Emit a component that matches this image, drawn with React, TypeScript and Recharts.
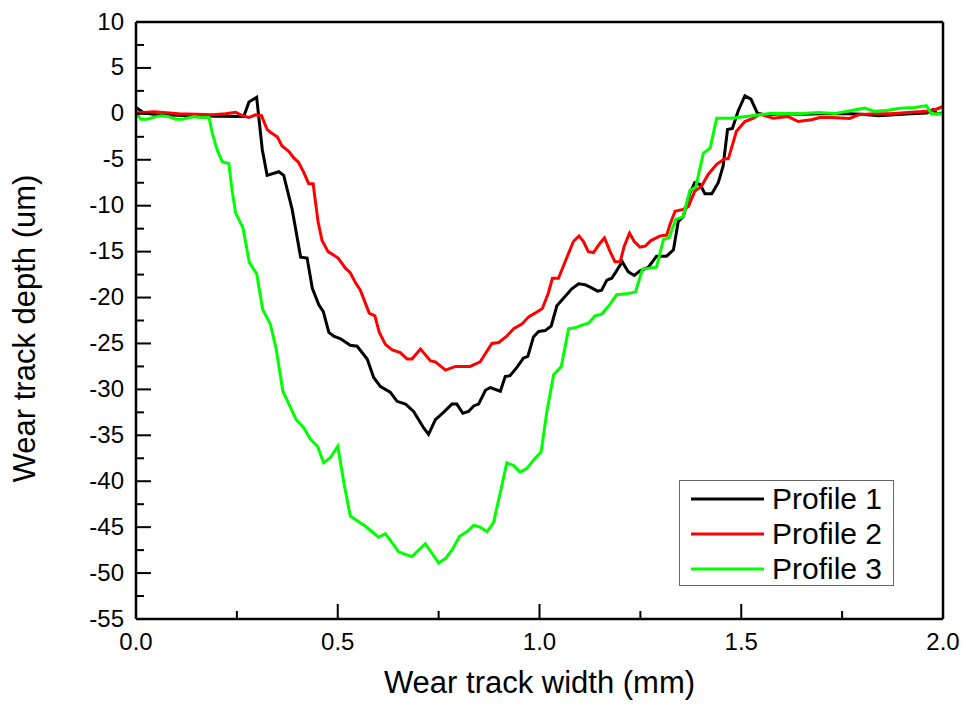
import { LineChart, Line, XAxis, YAxis, Legend } from "recharts"

const FONT = "'Liberation Sans', Arial, Helvetica, sans-serif"

// surface profiles across the wear track: width in mm, depth in um
const p1X = [
  0, 0.02, 0.05, 0.1, 0.15, 0.2, 0.267, 0.28, 0.299, 0.313, 0.325, 0.354, 0.366, 0.387, 0.408, 0.424,
  0.437, 0.453, 0.464, 0.478, 0.49, 0.507, 0.531, 0.548, 0.573, 0.589, 0.606, 0.63, 0.647, 0.668, 0.688,
  0.713, 0.725, 0.742, 0.762, 0.783, 0.795, 0.81, 0.824, 0.837, 0.849, 0.866, 0.878, 0.903, 0.915, 0.927,
  0.944, 0.96, 0.971, 0.985, 0.998, 1.014, 1.029, 1.043, 1.059, 1.08, 1.097, 1.113, 1.129, 1.144, 1.154,
  1.167, 1.179, 1.191, 1.205, 1.22, 1.235, 1.249, 1.27, 1.29, 1.315, 1.332, 1.344, 1.356, 1.373, 1.385,
  1.398, 1.41, 1.427, 1.443, 1.455, 1.466, 1.478, 1.493, 1.509, 1.524, 1.54, 1.558, 1.6, 1.65, 1.7, 1.75,
  1.8, 1.84, 1.88, 1.92, 1.96, 1.975, 1.985, 2.0,
]
const p1Y = [
  0.7, 0.1, -0.1, -0.15, -0.2, -0.25, -0.3, 1.3, 1.8, -3.9, -6.7, -6.3, -6.7, -10.4, -15.6, -15.7,
  -19.0, -20.8, -21.5, -23.8, -24.2, -24.5, -25.2, -25.3, -26.7, -28.7, -29.7, -30.3, -31.3, -31.6, -32.4,
  -34.2, -34.9, -33.3, -32.5, -31.6, -31.6, -32.6, -32.4, -31.8, -31.6, -30.1, -29.8, -30.2, -28.6, -28.5,
  -27.6, -26.6, -26.4, -24.3, -23.7, -23.6, -23.1, -20.9, -20.1, -19.05, -18.5, -18.6, -18.95, -19.3, -19.2,
  -18.1, -17.9, -17.1, -16.1, -17.2, -17.6, -17.1, -16.7, -15.5, -15.5, -14.8, -11.7, -11.2, -8.6, -7.5,
  -7.7, -8.7, -8.7, -7.5, -5.7, -1.7, -1.6, 0.4, 1.96, 1.6, 0.07, -0.1, 0.0, -0.05, 0.0, 0.05,
  -0.05, -0.2, -0.1, 0.0, 0.1, 0.45, 0.0, 0.1,
]

const p2X = [
  0, 0.045, 0.106, 0.19, 0.222, 0.247, 0.263, 0.28, 0.296, 0.311, 0.325, 0.333, 0.35, 0.362, 0.379, 0.391,
  0.403, 0.416, 0.428, 0.439, 0.451, 0.461, 0.476, 0.501, 0.519, 0.531, 0.544, 0.556, 0.578, 0.592, 0.603,
  0.618, 0.635, 0.655, 0.672, 0.684, 0.705, 0.73, 0.742, 0.767, 0.792, 0.828, 0.853, 0.866, 0.882, 0.899,
  0.919, 0.936, 0.956, 0.973, 0.989, 1.007, 1.022, 1.032, 1.047, 1.064, 1.084, 1.098, 1.109, 1.121, 1.134,
  1.148, 1.161, 1.175, 1.187, 1.2, 1.21, 1.223, 1.235, 1.249, 1.262, 1.276, 1.299, 1.315, 1.323, 1.336,
  1.356, 1.369, 1.385, 1.401, 1.418, 1.439, 1.459, 1.468, 1.488, 1.509, 1.53, 1.546, 1.579, 1.616, 1.641,
  1.674, 1.695, 1.724, 1.769, 1.79, 1.831, 1.87, 1.913, 1.959, 1.98, 2.0,
]
const p2Y = [
  0.1, 0.22, 0.0, -0.1, 0.0, 0.18, -0.2, -0.4, -0.1, -0.2, -1.7, -2.0, -2.5, -3.5, -4.1, -4.8,
  -5.3, -6.4, -7.6, -7.6, -11.7, -13.8, -15.0, -15.7, -16.8, -17.3, -18.4, -19.2, -21.7, -22.0, -23.8,
  -25.1, -25.7, -26.0, -26.7, -26.7, -25.6, -26.9, -27.0, -27.9, -27.5, -27.5, -27.0, -26.1, -25.0, -24.9,
  -24.2, -23.4, -22.9, -22.1, -21.7, -21.2, -19.5, -17.9, -17.9, -16.05, -13.9, -13.3, -13.9, -15.0, -15.1,
  -14.2, -13.5, -15.0, -16.1, -16.1, -14.4, -13.0, -13.9, -14.5, -14.4, -13.8, -13.3, -13.2, -12.1, -10.6,
  -10.4, -10.1, -8.4, -7.9, -6.6, -5.5, -4.9, -4.9, -1.9, -0.84, -0.47, -0.03, -0.47, -0.3, -0.84,
  -0.65, -0.4, -0.4, -0.5, -0.1, 0.0, 0.0, 0.15, 0.27, 0.45, 0.8,
]

const p3X = [
  0, 0.012, 0.028, 0.049, 0.065, 0.082, 0.098, 0.115, 0.144, 0.16, 0.181, 0.189, 0.201, 0.214, 0.23, 0.238,
  0.247, 0.265, 0.281, 0.299, 0.314, 0.333, 0.347, 0.364, 0.379, 0.397, 0.416, 0.432, 0.45, 0.465, 0.482,
  0.5, 0.515, 0.531, 0.552, 0.569, 0.585, 0.601, 0.618, 0.635, 0.651, 0.684, 0.717, 0.75, 0.767, 0.783,
  0.802, 0.82, 0.837, 0.853, 0.87, 0.886, 0.903, 0.919, 0.936, 0.952, 0.969, 0.985, 1.004, 1.018, 1.035,
  1.054, 1.072, 1.088, 1.105, 1.121, 1.138, 1.154, 1.172, 1.191, 1.216, 1.238, 1.255, 1.29, 1.307, 1.321,
  1.338, 1.356, 1.373, 1.387, 1.406, 1.423, 1.439, 1.476, 1.517, 1.575, 1.641, 1.691, 1.733, 1.773, 1.806,
  1.831, 1.86, 1.893, 1.93, 1.959, 1.971, 2.0,
]
const p3Y = [
  0.07, -0.58, -0.58, -0.3, -0.2, -0.3, -0.58, -0.58, -0.3, -0.4, -0.4, -2.1, -3.9, -5.25, -5.4, -8.3,
  -10.8, -12.4, -16.2, -17.4, -21.3, -22.9, -25.5, -30.2, -31.6, -33.3, -34.2, -35.4, -36.2, -38.0, -37.4,
  -36.2, -40.1, -43.8, -44.4, -44.9, -45.5, -46.1, -45.7, -46.7, -47.7, -48.2, -46.8, -48.9, -48.4, -47.5,
  -46.0, -45.5, -44.8, -45.0, -45.5, -44.5, -41.2, -38.0, -38.3, -39.0, -38.6, -37.7, -36.8, -32.5, -28.4,
  -27.5, -23.4, -23.3, -23.0, -22.8, -22.0, -21.8, -20.9, -19.7, -19.6, -19.4, -16.9, -16.7, -13.7, -13.5,
  -11.5, -11.2, -8.3, -8.0, -4.3, -3.7, -0.47, -0.47, -0.25, 0.07, 0.0, 0.15, 0.05, 0.36, 0.62,
  0.27, 0.36, 0.62, 0.68, 0.9, 0.0, 0.0,
]

const xTicks = [0, 0.25, 0.5, 0.75, 1.0, 1.25, 1.5, 1.75, 2.0]
const yTicks = [
  -55, -52.5, -50, -47.5, -45, -42.5, -40, -37.5, -35, -32.5, -30, -27.5, -25, -22.5, -20, -17.5, -15,
  -12.5, -10, -7.5, -5, -2.5, 0, 2.5, 5, 7.5, 10,
]

const toPoints = (xs: number[], ys: number[]) => xs.map((x, i) => ({ x, y: ys[i] }))

const profiles = [
  { name: "Profile 1", color: "#000000", data: toPoints(p1X, p1Y) },
  { name: "Profile 2", color: "#ff0000", data: toPoints(p2X, p2Y) },
  { name: "Profile 3", color: "#00ff00", data: toPoints(p3X, p3Y) },
]

const MAJOR = 15
const MINOR = 8
const frame = { stroke: "#000", strokeWidth: 2.5 }

const isMajorX = (v: number) => Math.abs(v * 2 - Math.round(v * 2)) < 1e-9
const isMajorY = (v: number) => Math.abs(v / 5 - Math.round(v / 5)) < 1e-9

// ticks point into the plot on all four sides
function LeftTick({ x, y, payload }: any) {
  const major = isMajorY(payload.value)
  return (
    <g>
      <line x1={x} x2={x + (major ? MAJOR : MINOR)} y1={y} y2={y} stroke="#000" strokeWidth={2} />
      {major && (
        <text x={x - 12} y={y - 1} textAnchor="end" dominantBaseline="central" fontSize={24} fontFamily={FONT} fill="#000">
          {payload.value}
        </text>
      )}
    </g>
  )
}

function RightTick({ x, y, payload }: any) {
  const len = isMajorY(payload.value) ? MAJOR : MINOR
  return <line x1={x - len} x2={x} y1={y} y2={y} stroke="#000" strokeWidth={2} />
}

function BottomTick({ x, y, payload }: any) {
  const major = isMajorX(payload.value)
  return (
    <g>
      <line x1={x} x2={x} y1={y} y2={y - (major ? MAJOR : MINOR)} stroke="#000" strokeWidth={2} />
      {major && (
        <text x={x} y={y + 31} textAnchor="middle" fontSize={24} fontFamily={FONT} fill="#000">
          {payload.value.toFixed(1)}
        </text>
      )}
    </g>
  )
}

function TopTick({ x, y, payload }: any) {
  const len = isMajorX(payload.value) ? MAJOR : MINOR
  return <line x1={x} x2={x} y1={y} y2={y + len} stroke="#000" strokeWidth={2} />
}

function XTitle({ viewBox }: any) {
  return (
    <text x={viewBox.x + viewBox.width / 2} y={viewBox.y + 74} textAnchor="middle" fontSize={31} fontFamily={FONT} fill="#000">
      Wear track width (mm)
    </text>
  )
}

function YTitle({ viewBox }: any) {
  const cx = viewBox.x + 35
  const cy = viewBox.y + viewBox.height / 2 + 8
  return (
    <text x={cx} y={cy} transform={`rotate(-90 ${cx} ${cy})`} textAnchor="middle" fontSize={31} fontFamily={FONT} fill="#000">
      Wear track depth (um)
    </text>
  )
}

function LegendBox({ payload }: any) {
  return (
    <div
      style={{
        width: 215,
        height: 106,
        boxSizing: "border-box",
        border: "1.5px solid #666",
        background: "#fff",
        fontFamily: FONT,
      }}
    >
      {(payload || []).map((entry: any) => (
        <div key={entry.value} style={{ display: "flex", alignItems: "center", height: 35 }}>
          <svg width={73} height={6} style={{ marginLeft: 11 }}>
            <line x1={0} x2={73} y1={3} y2={3} stroke={entry.color} strokeWidth={3} />
          </svg>
          <span style={{ marginLeft: 8, fontSize: 30, lineHeight: "35px", color: "#000" }}>{entry.value}</span>
        </div>
      ))}
    </div>
  )
}

export default function App() {
  return (
    <div style={{ position: "absolute", left: 0, top: 0, background: "#fff" }}>
      <LineChart width={966} height={706} margin={{ top: 21, right: 22, bottom: 7, left: 0 }}>
        <XAxis
          dataKey="x"
          type="number"
          domain={[0, 2]}
          ticks={xTicks}
          interval={0}
          height={80}
          tickSize={0}
          tickMargin={0}
          tickLine={false}
          axisLine={frame}
          tick={<BottomTick />}
          label={<XTitle />}
        />
        {/* mirrored frame on top and right, ticks only */}
        <XAxis
          xAxisId="top"
          orientation="top"
          dataKey="x"
          type="number"
          domain={[0, 2]}
          ticks={xTicks}
          interval={0}
          height={1}
          tickSize={0}
          tickMargin={0}
          tickLine={false}
          axisLine={frame}
          tick={<TopTick />}
        />
        <YAxis
          type="number"
          domain={[-55, 10]}
          ticks={yTicks}
          interval={0}
          width={136}
          tickSize={0}
          tickMargin={0}
          tickLine={false}
          axisLine={frame}
          tick={<LeftTick />}
          label={<YTitle />}
        />
        <YAxis
          yAxisId="right"
          orientation="right"
          type="number"
          domain={[-55, 10]}
          ticks={yTicks}
          interval={0}
          width={1}
          tickSize={0}
          tickMargin={0}
          tickLine={false}
          axisLine={frame}
          tick={<RightTick />}
        />
        <Legend
          layout="vertical"
          align="center"
          verticalAlign="middle"
          wrapperStyle={{ left: 679, top: 480, width: 215 }}
          content={<LegendBox />}
        />
        {profiles.map((p) => (
          <Line
            key={p.name}
            name={p.name}
            data={p.data}
            dataKey="y"
            type="linear"
            stroke={p.color}
            strokeWidth={3}
            dot={false}
            isAnimationActive={false}
          />
        ))}
      </LineChart>
    </div>
  )
}
